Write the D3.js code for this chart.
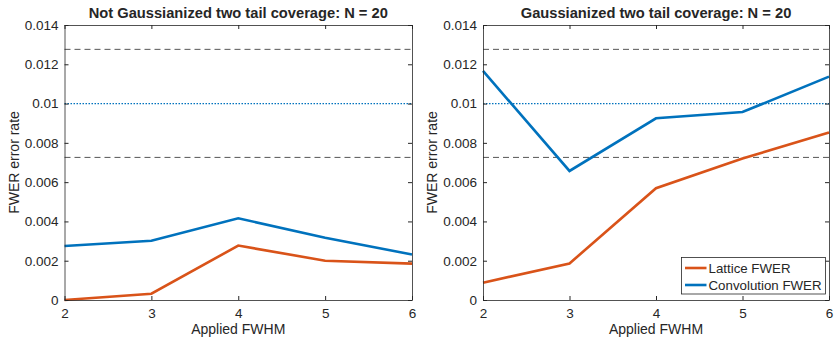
<!DOCTYPE html>
<meta charset="utf-8">
<head>
  <title>FWER coverage</title>
</head>
<style>
body { margin: 0; background: #fff; }
text { font-family: "Liberation Sans", Arial, sans-serif; fill: #262626; }
.axis path, .axis line { stroke: #262626; }
</style>
<body>
<svg width="836" height="339"></svg>
<script src="https://cdn.jsdelivr.net/npm/d3@7"></script>
<script>
var fwhm = [2, 3, 4, 5, 6];
var yTicks = [0, 0.002, 0.004, 0.006, 0.008, 0.01, 0.012, 0.014];
var titles = ["Not Gaussianized two tail coverage: N = 20", "Gaussianized two tail coverage: N = 20"];
var latticeNG = [0, 0.00032, 0.00277, 0.0020, 0.00185];
var convNG = [0.00275, 0.00302, 0.00416, 0.00317, 0.00232];
var latticeG = [0.00088, 0.00186, 0.00569, 0.0072, 0.00853];
var convG = [0.01166, 0.00657, 0.00925, 0.00957, 0.01137];
var nominal = 0.01;
var bandLow = 0.00726, bandHigh = 0.01276;
var seriesNames = ["Lattice FWER", "Convolution FWER"];
var colors = ["#D95319", "#0072BD"];

var svg = d3.select("svg");
var panels = [
  {left: 64.5, right: 412, lat: latticeNG, conv: convNG, title: titles[0], legend: false},
  {left: 483, right: 829, lat: latticeG, conv: convG, title: titles[1], legend: true}
];
var plotTop = 25, plotBottom = 300;

panels.forEach(function(p) {
  var x = d3.scaleLinear().domain([2, 6]).range([p.left, p.right]);
  var y = d3.scaleLinear().domain([0, 0.014]).range([plotBottom, plotTop]);
  var g = svg.append("g");
  var fmt = function(d) { return d === 0 ? "0" : String(+d.toFixed(3)); };

  // reference lines
  [bandHigh, bandLow].forEach(function(v) {
    g.append("line").attr("x1", x(2)).attr("x2", x(6)).attr("y1", y(v)).attr("y2", y(v))
      .attr("stroke", "#555").attr("stroke-width", 1).attr("stroke-dasharray", "6,4");
  });
  g.append("line").attr("x1", x(2)).attr("x2", x(6)).attr("y1", y(nominal)).attr("y2", y(nominal))
    .attr("stroke", "#0072BD").attr("stroke-width", 1.2).attr("stroke-dasharray", "1.5,1.5");

  var line = d3.line().x(function(d, i) { return x(fwhm[i]); }).y(function(d) { return y(d); });
  [p.lat, p.conv].forEach(function(s, i) {
    g.append("path").datum(s).attr("d", line).attr("fill", "none")
      .attr("stroke", colors[i]).attr("stroke-width", 2.6);
  });

  // axes (box with inward ticks)
  g.append("g").attr("class", "axis").attr("transform", "translate(0," + plotBottom + ")")
    .call(d3.axisBottom(x).tickValues(fwhm).tickSize(-4).tickSizeOuter(0).tickPadding(8).tickFormat(d3.format("d")))
    .call(function(a) { a.selectAll("text").attr("font-size", 13.5); });
  g.append("g").attr("class", "axis").attr("transform", "translate(0," + plotTop + ")")
    .call(d3.axisTop(x).tickValues(fwhm).tickSize(-4).tickSizeOuter(0).tickFormat(""));
  g.append("g").attr("class", "axis").attr("transform", "translate(" + p.left + ",0)")
    .call(d3.axisLeft(y).tickValues(yTicks).tickSize(-4).tickSizeOuter(0).tickPadding(6).tickFormat(fmt))
    .call(function(a) { a.selectAll("text").attr("font-size", 13.5); });
  g.append("g").attr("class", "axis").attr("transform", "translate(" + p.right + ",0)")
    .call(d3.axisRight(y).tickValues(yTicks).tickSize(-4).tickSizeOuter(0).tickFormat(""));
  g.selectAll(".axis .domain").attr("stroke-width", 0.8);

  g.append("text").attr("x", (p.left + p.right) / 2).attr("y", 18).attr("text-anchor", "middle")
    .attr("font-size", 14.7).attr("font-weight", "bold").text(p.title);
  g.append("text").attr("x", (p.left + p.right) / 2).attr("y", 334).attr("text-anchor", "middle")
    .attr("font-size", 14).text("Applied FWHM");
  g.append("text").attr("transform", "translate(" + (p.left - 46) + "," + ((plotTop + plotBottom) / 2) + ") rotate(-90)")
    .attr("text-anchor", "middle").attr("font-size", 14).text("FWER error rate");

  if (p.legend) {
    var lg = g.append("g").attr("transform", "translate(681.5,257.5)");
    lg.append("rect").attr("width", 144).attr("height", 36.5).attr("fill", "#fff")
      .attr("stroke", "#262626").attr("stroke-width", 0.8);
    seriesNames.forEach(function(n, i) {
      var yy = 10.5 + i * 17;
      lg.append("line").attr("x1", 3.5).attr("x2", 25).attr("y1", yy).attr("y2", yy)
        .attr("stroke", colors[i]).attr("stroke-width", 2.6);
      lg.append("text").attr("x", 27).attr("y", yy + 4.7).attr("font-size", 13.3).text(n);
    });
  }
});
</script>
</body>
</html>
